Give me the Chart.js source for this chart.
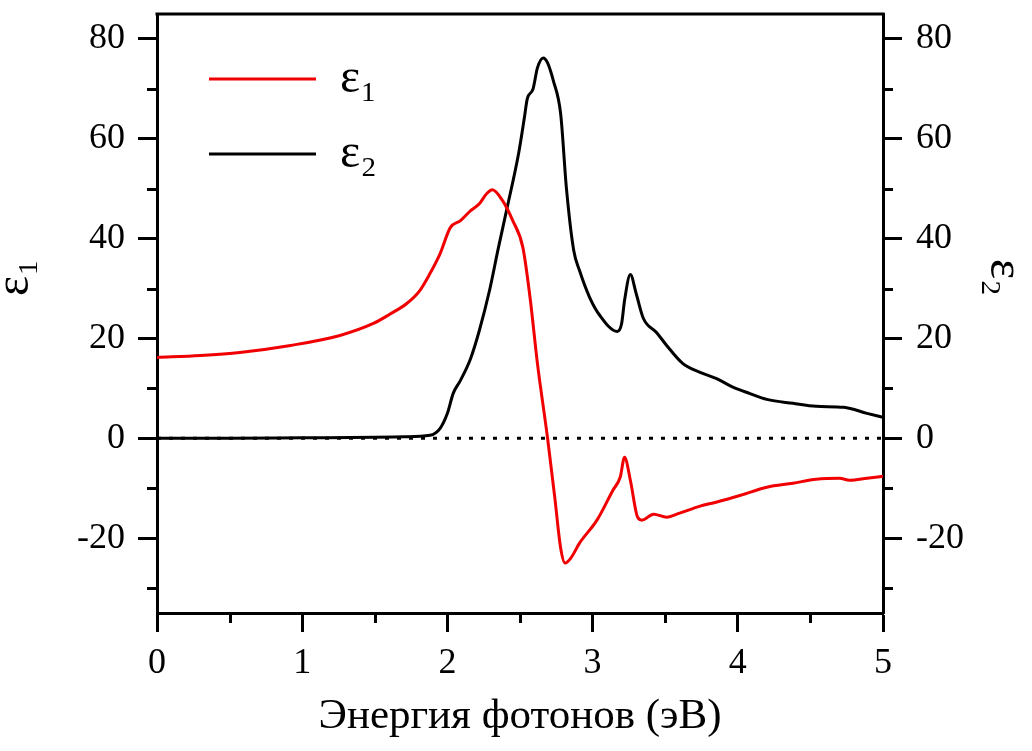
<!DOCTYPE html>
<html>
<head>
<meta charset="utf-8">
<title>eps1 eps2</title>
<script src="https://cdn.jsdelivr.net/npm/chart.js@4.4.1/dist/chart.umd.min.js"></script>
<style>
    html, body { margin: 0; padding: 0; background: #fff; }
    #chartBox { width: 1032px; height: 751px; position: relative; }
</style>
</head>
<body>
<div id="chartBox"><canvas id="chartBoxCanvas"></canvas></div>
<script>
'use strict';

// eps1 (red) - photon energy in eV
const eps1Energy = [0, 0.3, 0.57, 0.92, 1.26, 1.49, 1.6, 1.72, 1.81, 1.88, 1.95, 2.02, 2.09, 2.16, 2.22, 2.27, 2.31, 2.38, 2.45, 2.52, 2.57, 2.62, 2.69, 2.74, 2.78, 2.81, 2.85, 2.91, 3.03, 3.14, 3.19, 3.22, 3.26, 3.31, 3.34, 3.42, 3.51, 3.6, 3.74, 3.85, 4.02, 4.2, 4.38, 4.54, 4.7, 4.77, 4.89, 5.0];
const eps1Values = [16.2, 16.6, 17.2, 18.6, 20.6, 23.0, 24.8, 27, 29.6, 33, 37, 42.2, 43.6, 45.6, 47, 49, 49.8, 47.6, 43.6, 38.2, 28, 15, 0, -12, -22, -25, -24, -21, -16.4, -10.4, -7.8, -3.8, -8.4, -15.8, -16.4, -15.2, -15.8, -15, -13.6, -12.8, -11.4, -9.8, -9, -8.2, -8, -8.4, -8, -7.6];

// eps2 (black)
const eps2Energy = [0, 0.5, 1.0, 1.5, 1.7, 1.88, 1.95, 2.0, 2.04, 2.09, 2.16, 2.22, 2.29, 2.35, 2.41, 2.49, 2.53, 2.55, 2.59, 2.62, 2.66, 2.69, 2.73, 2.78, 2.82, 2.87, 2.91, 2.98, 3.05, 3.17, 3.2, 3.22, 3.26, 3.3, 3.35, 3.44, 3.51, 3.62, 3.74, 3.85, 3.97, 4.08, 4.2, 4.38, 4.54, 4.73, 4.89, 5.0];
const eps2Values = [0, 0, 0.1, 0.2, 0.3, 0.6, 2, 5, 9, 11.6, 16, 21.6, 29.6, 38, 46, 57, 64.2, 68, 70, 74.2, 76.2, 75.2, 71.6, 65, 50, 37.6, 33.6, 28.2, 24.6, 21.4, 23, 27.6, 32.8, 29, 24, 21.2, 18.6, 15, 13.2, 12, 10.2, 9, 7.8, 7, 6.4, 6.2, 5, 4.2];

// dotted zero line
const zeroEnergy = [0, 5];
const zeroValues = [0, 0];

// ticks (minor ones get no label)
const xTickValues = [0, 0.5, 1, 1.5, 2, 2.5, 3, 3.5, 4, 4.5, 5];
const xTickLabels = ['0', '1', '2', '3', '4', '5'];
const yTickValues = [-30, -20, -10, 0, 10, 20, 30, 40, 50, 60, 70, 80];
const yTickLabels = ['-20', '0', '20', '40', '60', '80'];

const seriesLabels = ['\u03b5\u2081', '\u03b5\u2082'];
const xTitle = 'Энергия фотонов (эВ)';

const serif = "'Liberation Serif', 'Times New Roman', serif";
const AXIS_W = 3;
const MAJOR_LEN = 19;
const MINOR_LEN = 10;

function toPoints(xs, ys){
    return xs.map((x, i) => ({x: x, y: ys[i]}));
}

function labelFor(scale, value){
    const labels = scale.axis === 'x' ? xTickLabels : yTickLabels;
    const txt = String(value);
    return labels.indexOf(txt) !== -1 ? txt : '';
}

function tickColor(c){
    if(!c.tick) return '#000';
    return labelFor(c.scale, c.tick.value) === '' ? 'rgba(0,0,0,0)' : '#000';
}

// legend sits inside the plot; layout puts it at top 0, so place it by hand
const frameTicks = {
    id: 'frameTicks',
    afterLayout(chart){
        const lg = chart.legend;
        if(!lg) return;
        const h = lg.height;
        lg.left = 182;
        lg.top = 28;
        lg.bottom = 28 + h;
    },
    afterDraw(chart){
        const ctx = chart.ctx;
        const area = chart.chartArea;
        ctx.save();
        ctx.strokeStyle = '#000';
        ctx.lineWidth = AXIS_W;
        ctx.beginPath();
        ctx.moveTo(area.left - 1.5, area.top);
        ctx.lineTo(area.right + 1.5, area.top);
        ctx.stroke();

        ['x', 'y', 'y2'].forEach(id => {
            const s = chart.scales[id];
            s.ticks.forEach(t => {
                if(labelFor(s, t.value) !== '') return;
                const p = Math.round(s.getPixelForValue(t.value)) + 0.5;
                ctx.beginPath();
                if(id === 'x'){
                    ctx.moveTo(p, area.bottom);
                    ctx.lineTo(p, area.bottom + MINOR_LEN);
                }
                else if(id === 'y'){
                    ctx.moveTo(area.left, p);
                    ctx.lineTo(area.left - MINOR_LEN, p);
                }
                else{
                    ctx.moveTo(area.right, p);
                    ctx.lineTo(area.right + MINOR_LEN, p);
                }
                ctx.stroke();
            });
        });
        ctx.restore();
    }
};

function axisCommon(){
    return {
        border: {display: true, color: '#000', width: AXIS_W},
        grid: {drawOnChartArea: false, drawTicks: true, tickLength: MAJOR_LEN, tickWidth: AXIS_W, tickColor: tickColor},
    };
}

function fixVertical(width){
    return s => {
        s.width = width;
        s.paddingTop = 0;
        s.paddingBottom = 0;
    };
}

const ctx = document.getElementById('chartBoxCanvas').getContext('2d');
window.myChart = new Chart(ctx, {
    type: 'line',
    data: {
        datasets: [
            {
                label: seriesLabels[0],
                data: toPoints(eps1Energy, eps1Values),
                borderColor: '#f00000',
                backgroundColor: '#f00000',
                borderWidth: 3,
                pointRadius: 0,
                cubicInterpolationMode: 'monotone',
                yAxisID: 'y'
            },
            {
                label: seriesLabels[1],
                data: toPoints(eps2Energy, eps2Values),
                borderColor: '#000',
                backgroundColor: '#000',
                borderWidth: 3,
                pointRadius: 0,
                cubicInterpolationMode: 'monotone',
                yAxisID: 'y2'
            },
            {
                label: 'zero',
                data: toPoints(zeroEnergy, zeroValues),
                borderColor: '#000',
                borderWidth: 3,
                borderDash: [4, 8],
                pointRadius: 0,
                yAxisID: 'y'
            }
        ]
    },
    options: {
        responsive: true,
        maintainAspectRatio: false,
        animation: false,
        layout: {padding: {top: 14, left: 0, right: 0, bottom: 0}},
        plugins: {
            tooltip: {enabled: false},
            legend: {
                position: 'chartArea',
                align: 'start',
                labels: {
                    usePointStyle: true,
                    pointStyle: 'line',
                    pointStyleWidth: 107,
                    color: '#000',
                    padding: 27,
                    font: {family: serif, size: 48},
                    filter: item => item.datasetIndex < 2
                }
            }
        },
        scales: {
            x: Object.assign(axisCommon(), {
                type: 'linear',
                min: 0,
                max: 5,
                afterBuildTicks: s => { s.ticks = xTickValues.map(v => ({value: v})); },
                afterFit: s => { s.height = 138; s.paddingLeft = 0; s.paddingRight = 0; },
                ticks: {
                    color: '#000', padding: 10, maxRotation: 0, autoSkip: false,
                    font: {family: serif, size: 36},
                    callback: function(v){ return labelFor(this, v); }
                },
                title: {display: true, text: xTitle, color: '#000', font: {family: serif, size: 43}, padding: {top: 0, bottom: 8}}
            }),
            y: Object.assign(axisCommon(), {
                type: 'linear',
                position: 'left',
                min: -35,
                max: 85,
                afterBuildTicks: s => { s.ticks = yTickValues.map(v => ({value: v})); },
                afterFit: fixVertical(157),
                ticks: {
                    color: '#000', padding: 13, autoSkip: false,
                    font: {family: serif, size: 36},
                    callback: function(v){ return labelFor(this, v); }
                },
                title: {display: true, text: '      ' + seriesLabels[0], color: '#000', font: {family: serif, size: 48, lineHeight: 0.55}, padding: {top: 2, bottom: 0}}
            }),
            y2: Object.assign(axisCommon(), {
                type: 'linear',
                position: 'right',
                min: -35,
                max: 85,
                afterBuildTicks: s => { s.ticks = yTickValues.map(v => ({value: v})); },
                afterFit: fixVertical(149),
                ticks: {
                    color: '#000', padding: 14, autoSkip: false,
                    font: {family: serif, size: 36},
                    callback: function(v){ return labelFor(this, v); }
                },
                title: {display: true, text: seriesLabels[1] + '      ', color: '#000', font: {family: serif, size: 48, lineHeight: 0.55}, padding: {top: 15, bottom: 0}}
            })
        }
    },
    plugins: [frameTicks]
});
</script>
</body>
</html>
